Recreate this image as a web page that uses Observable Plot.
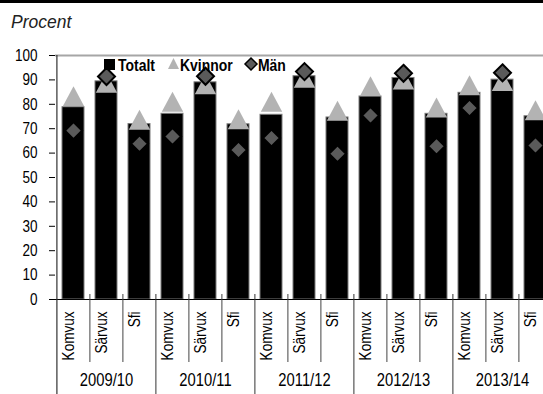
<!DOCTYPE html>
<html>
<head>
<meta charset="utf-8">
<script src="https://cdn.jsdelivr.net/npm/d3@7"></script>
<script src="https://cdn.jsdelivr.net/npm/@observablehq/plot@0.6"></script>
<style>
  html, body { margin: 0; padding: 0; background: #fff; }
  #wrap { position: relative; width: 543px; height: 394px; overflow: hidden; background: #fff; }
  #topbar { position: absolute; left: 0; top: 0; width: 543px; height: 3px; background: #000; }
  #unit { position: absolute; left: 11px; top: 12px; font: italic 17.5px "Liberation Sans", Arial, sans-serif; color: #222; line-height: 20px; }
  #chart { position: absolute; left: 0; top: 40px; width: 553px; height: 354px; }
  #chart svg { max-width: none !important; }
  #legend { position: absolute; left: 0; top: 0; }
  svg text { font-family: "Liberation Sans", Arial, sans-serif; }
</style>
</head>
<body>
<div id="wrap">
  <div id="topbar"></div>
  <div id="unit">Procent</div>
  <div id="chart"></div>
  <svg id="legend" width="543" height="80"></svg>
</div>
<script>
// ---- Data ----
const years = ["2009/10", "2010/11", "2011/12", "2012/13", "2013/14"];
const types = ["Komvux", "Särvux", "Sfi"];
const totalt  = [78.8, 89.4, 71.9, 76.1, 89.0, 71.8, 75.7, 91.5, 74.6, 83.2, 90.8, 76.1, 84.7, 90.1, 75.1];
const kvinnor = [83.3, 88.8, 73.7, 81.0, 88.2, 73.9, 81.0, 90.9, 77.4, 87.4, 90.2, 78.7, 87.8, 89.5, 77.6];
const man     = [69.2, 91.4, 63.8, 66.8, 91.5, 61.3, 66.2, 93.4, 59.7, 75.4, 92.7, 62.8, 78.5, 92.9, 63.1];
const yTicks = [0, 10, 20, 30, 40, 50, 60, 70, 80, 90, 100];
const seriesNames = ["Totalt", "Kvinnor", "Män"];

// ---- Build table ----
const rows = [];
years.forEach((yr, i) => types.forEach((t, j) => {
  const k = i * types.length + j;
  rows.push({key: yr + "|" + t, year: yr, type: t, totalt: totalt[k], kvinnor: kvinnor[k], man: man[k]});
}));
const keys = rows.map(d => d.key);
const groupStarts = rows.filter(d => d.type === types[0]);
const innerSeps = rows.filter(d => d.type !== types[0]);
const yearMid = rows.filter(d => d.type === types[1]);

// ---- Symbols ----
const triangleSym = {draw(ctx, size) {
  const r = Math.sqrt(size / Math.PI), h = r * 0.935;
  ctx.moveTo(0, -h); ctx.lineTo(r, h); ctx.lineTo(-r, h); ctx.closePath();
}};
const diamondSym = {draw(ctx, size) {
  const r = Math.sqrt(size / Math.PI);
  ctx.moveTo(0, -r); ctx.lineTo(r, 0); ctx.lineTo(0, r); ctx.lineTo(-r, 0); ctx.closePath();
}};

const W = 553, H = 354, mL = 55, mR = 0, mT = 15, mB = 95;
const step = (W - mL - mR) / keys.length;
const plotH = H - mT - mB;

const chart = Plot.plot({
  width: W, height: H,
  marginLeft: mL, marginRight: mR, marginTop: mT, marginBottom: mB,
  style: {fontSize: "16.5px", color: "#000", background: "transparent", maxWidth: "none", fontFamily: "Liberation Sans, Arial, sans-serif"},
  x: {domain: keys, paddingInner: 0.337, paddingOuter: 0.17, axis: null},
  y: {domain: [0, 100], ticks: yTicks, tickSize: 6, tickPadding: 12, tickFormat: d => d, label: null},
  marks: [
    Plot.ruleY([100], {stroke: "#a6a6a6", strokeWidth: 2}),
    Plot.barY(rows, {x: "key", y: "totalt", fill: "#000", stroke: "#7a7a7a", strokeWidth: 1}),
    Plot.dot(rows, {x: "key", y: "kvinnor", symbol: triangleSym, r: 10.7, fill: "#b3b3b3", stroke: "none"}),
    Plot.dot(rows, {x: "key", y: "man", symbol: diamondSym, r: 8.5, fill: "#5a5a5a", stroke: "#000", strokeWidth: 2}),
    Plot.ruleY([0], {stroke: "#000", strokeWidth: 1.2}),
    Plot.ruleX(innerSeps, {x: "key", dx: -step / 2, stroke: "#444", strokeWidth: 1, insetTop: plotH - 5, insetBottom: -63}),
    Plot.ruleX(groupStarts.slice(1), {x: "key", dx: -step / 2, stroke: "#333", strokeWidth: 1, insetTop: plotH - 5, insetBottom: -mB}),
    Plot.ruleX(groupStarts.slice(0, 1), {x: "key", dx: -step / 2, stroke: "#333", strokeWidth: 1.2, insetBottom: -mB}),
    Plot.text(rows, {x: "key", text: "type", frameAnchor: "bottom", rotate: -90, textAnchor: "end", dy: 12, fontSize: 16.5, fill: "#000"}),
    Plot.text(yearMid, {x: "key", text: "year", frameAnchor: "bottom", dy: 86, fontSize: 18, fill: "#000"})
  ]
});
document.getElementById("chart").appendChild(chart);

// condense text (narrow face emulation)
function condense(root, f) {
  root.querySelectorAll("text").forEach(t => {
    const len = t.getComputedTextLength();
    if (len > 0) {
      t.setAttribute("textLength", (len * f).toFixed(2));
      t.setAttribute("lengthAdjust", "spacingAndGlyphs");
    }
  });
}
condense(chart, 0.82);

// ---- Legend ----
const lg = d3.select("#legend");
const legendX = [104, 168, 245];
const textX = [118, 180, 258];
lg.append("rect").attr("x", legendX[0]).attr("y", 59).attr("width", 11).attr("height", 11).attr("fill", "#000");
lg.append("path").attr("d", `M${legendX[1] + 5.5},58 L${legendX[1] + 11},69 L${legendX[1]},69 Z`).attr("fill", "#b3b3b3");
lg.append("path").attr("d", `M${legendX[2] + 6},58 L${legendX[2] + 12},64 L${legendX[2] + 6},70 L${legendX[2]},64 Z`)
  .attr("fill", "#5a5a5a").attr("stroke", "#000").attr("stroke-width", 1.5);
seriesNames.forEach((n, i) => {
  lg.append("text").attr("x", textX[i]).attr("y", 70.5).text(n)
    .attr("font-family", "Liberation Sans, Arial, sans-serif").attr("font-weight", "bold").attr("font-size", 17).attr("fill", "#000");
});
condense(document.getElementById("legend"), 0.82);
</script>
</body>
</html>
